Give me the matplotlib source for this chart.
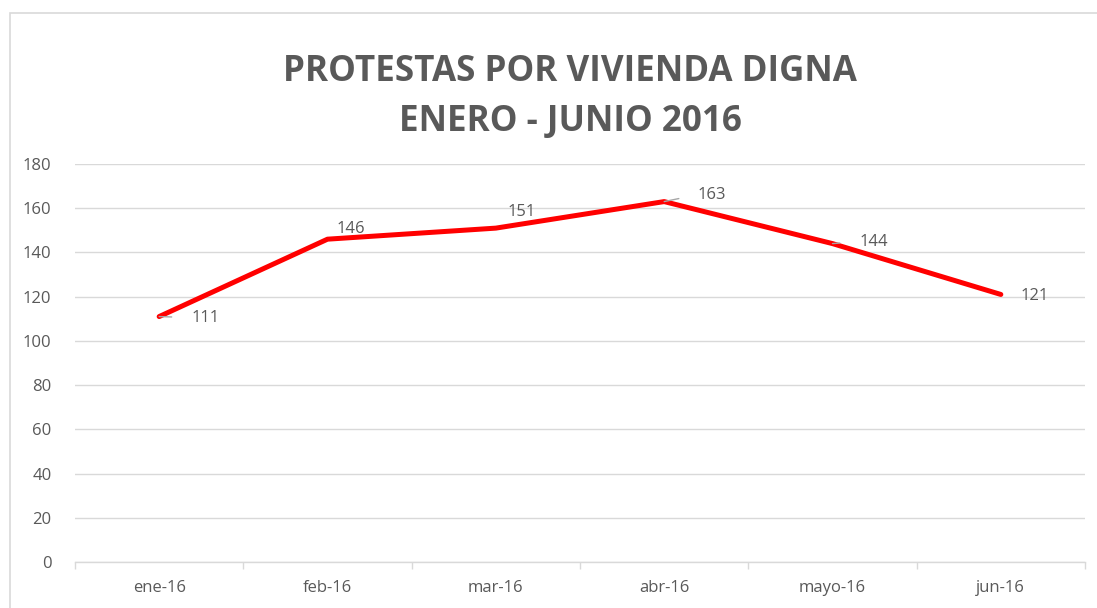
import matplotlib
matplotlib.use("Agg")
import matplotlib.pyplot as plt
from matplotlib.patches import Rectangle

months = ["ene-16", "feb-16", "mar-16", "abr-16", "mayo-16", "jun-16"]
protests = [111, 146, 151, 163, 144, 121]
yticks = [0, 20, 40, 60, 80, 100, 120, 140, 160, 180]
title = "PROTESTAS POR VIVIENDA DIGNA\nENERO - JUNIO 2016"

# label offsets in pixels (dx, dy) and whether to draw a leader line
label_offsets = [(46, -1), (23, 10), (26, 16), (48, 7), (41, 2), (34, -2)]
leaders = [True, False, False, True, True, False]

TXT = "#595959"
GRID = "#D9D9D9"
FONT = ["Open Sans", "DejaVu Sans"]
FS = 12

fig = plt.figure(figsize=(10.97, 6.08), dpi=100)
fig.patches.append(Rectangle((10 / 1097, -0.1), 1.2, 1 - 13 / 608 + 0.1,
                             transform=fig.transFigure, fill=False,
                             edgecolor=GRID, linewidth=1.2))
ax = fig.add_axes([75 / 1097, 1 - 562 / 608, (1085 - 75) / 1097, (562 - 164) / 608])

x = list(range(len(months)))
ax.plot(x, protests, color="#FF0000", linewidth=3.6, solid_capstyle="round", zorder=3)

ax.set_xlim(-0.5, len(months) - 0.5)
ax.set_ylim(0, 180)
ax.set_yticks(yticks)
ax.set_yticklabels([str(v) for v in yticks], fontfamily=FONT, fontsize=FS, color=TXT)
ax.set_xticks(x)
ax.set_xticklabels(months, fontfamily=FONT, fontsize=FS, color=TXT)
ax.tick_params(axis="x", which="major", length=0, pad=13)
ax.tick_params(axis="y", length=0, pad=17)
ax.set_xticks([i - 0.5 for i in range(len(months) + 1)], minor=True)
ax.tick_params(axis="x", which="minor", length=5, color=GRID, width=1)
ax.grid(axis="y", color=GRID, linewidth=1)
ax.set_axisbelow(True)
for s in ["top", "right", "left"]:
    ax.spines[s].set_visible(False)
ax.spines["bottom"].set_color(GRID)
ax.spines["bottom"].set_linewidth(1)

for xi, v, (dx, dy), ld in zip(x, protests, label_offsets, leaders):
    kw = {}
    if ld:
        kw["arrowprops"] = dict(arrowstyle="-", color="#A6A6A6", linewidth=1,
                                shrinkA=12, shrinkB=0, relpos=(0, 0.5))
    ax.annotate(str(v), xy=(xi, v), xytext=(dx, dy), textcoords="offset pixels",
                ha="center", va="center", fontsize=FS, color=TXT,
                fontfamily=FONT, zorder=4, **kw)

fig.text(570 / 1097, 1 - 97 / 608, title, ha="center", va="center",
         fontsize=25.2, fontweight="bold", color=TXT, fontfamily=FONT,
         linespacing=1.55)

fig.savefig("out.png", dpi=100)
